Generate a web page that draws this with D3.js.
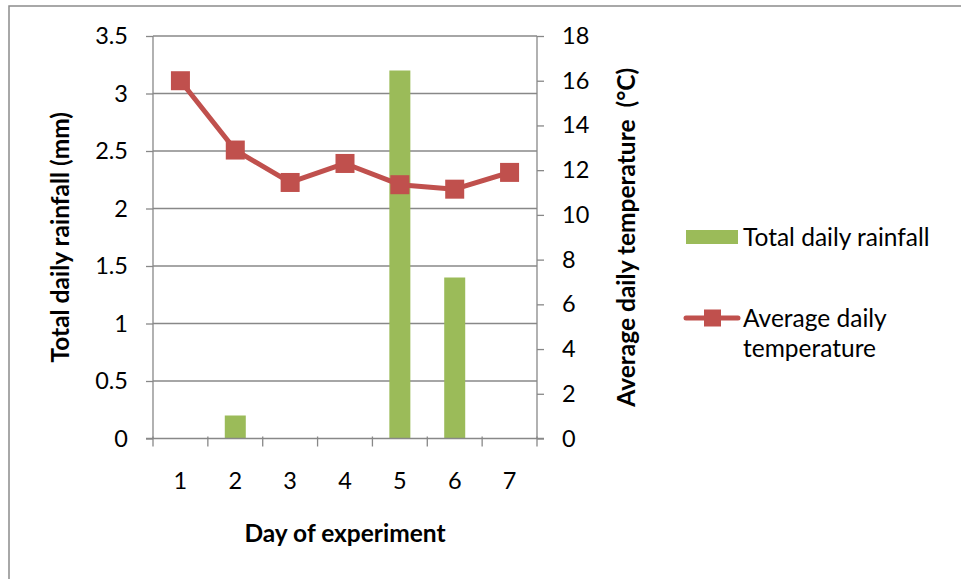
<!DOCTYPE html>
<html><head><meta charset="utf-8">
<script src="https://cdn.jsdelivr.net/npm/d3@7/dist/d3.min.js"></script>
<style>
html,body{margin:0;padding:0;background:#fff;}
svg{display:block;font-family:Lato,"Open Sans",sans-serif;}
</style></head>
<body><svg id="c" width="961" height="579"></svg>
<script>
const days = ["1","2","3","4","5","6","7"];
const rainfall = [0, 0.2, 0, 0, 3.2, 1.4, 0];
const temperature = [16.0, 12.9, 11.45, 12.3, 11.35, 11.15, 11.9];
const rainTicks = [0, 0.5, 1, 1.5, 2, 2.5, 3, 3.5];
const tempTicks = [0, 2, 4, 6, 8, 10, 12, 14, 16, 18];
const seriesNames = ["Total daily rainfall", "Average daily temperature"];

const svg = d3.select("#c");
const L = 153, R = 537, T = 36, B = 438.5;
const green = "#9BBB59", red = "#C0504D", grid = "#888888";
const fs = 23.5, fsLeg = 24.5, fsTitle = 24.5;

// outer frame
svg.append("rect").attr("x",9).attr("y",6).attr("width",1000).attr("height",1000)
  .attr("fill","none").attr("stroke","#8c8c8c").attr("stroke-width",1.5);

const x = d3.scaleBand().domain(days).range([L,R]);
const yL = d3.scaleLinear().domain([0,3.5]).range([B,T]);
const yR = d3.scaleLinear().domain([0,18]).range([B,T]);

// gridlines
svg.append("g").selectAll("line").data(rainTicks.filter(d=>d>0)).join("line")
  .attr("x1",L).attr("x2",R).attr("y1",d=>yL(d)).attr("y2",d=>yL(d))
  .attr("stroke",grid).attr("stroke-width",1.3);

// bars
const bw = 21;
svg.append("g").selectAll("rect").data(rainfall).join("rect")
  .attr("x",(d,i)=>x(days[i])+x.bandwidth()/2-bw/2)
  .attr("width",bw)
  .attr("y",d=>yL(d)).attr("height",d=>B-yL(d))
  .attr("fill",green);

// left axis
const axL = svg.append("g").attr("transform",`translate(${L},0)`)
  .call(d3.axisLeft(yL).tickValues(rainTicks).tickSize(7).tickPadding(18).tickFormat(d3.format("")));
// right axis
const axR = svg.append("g").attr("transform",`translate(${R},0)`)
  .call(d3.axisRight(yR).tickValues(tempTicks).tickSize(7).tickPadding(18));
// bottom axis
const xTickPos = d3.range(days.length+1);
const axB = svg.append("g").attr("transform",`translate(0,${B})`)
  .call(d3.axisBottom(x).tickSize(0).tickPadding(34));
axB.selectAll(".edge").data(xTickPos).join("line").attr("class","edge")
  .attr("x1",i=>L+i*x.step()).attr("x2",i=>L+i*x.step()).attr("y1",-2).attr("y2",8)
  .attr("stroke",grid).attr("stroke-width",1.3);

[axL,axR,axB].forEach(a=>{
  a.selectAll(".domain").attr("stroke",grid).attr("stroke-width",1.3);
  a.selectAll(".tick line").attr("stroke",grid).attr("stroke-width",1.3);
  a.selectAll("text").attr("font-size",fs).attr("font-family","Lato").attr("fill","#000");
});
axB.select(".domain").attr("d",`M${L-7},0H${R+7}`);
axL.select(".domain").attr("d",`M0,${T}V${B}`);
axR.select(".domain").attr("d",`M0,${T}V${B}`);

// line
const line = d3.line().x((d,i)=>x(days[i])+x.bandwidth()/2).y(d=>yR(d));
svg.append("path").datum(temperature).attr("d",line).attr("fill","none")
  .attr("stroke",red).attr("stroke-width",5).attr("stroke-linejoin","round");
const ms = 19;
svg.append("g").selectAll("rect").data(temperature).join("rect")
  .attr("x",(d,i)=>x(days[i])+x.bandwidth()/2-ms/2).attr("y",d=>yR(d)-ms/2)
  .attr("width",ms).attr("height",ms).attr("fill",red);

// axis titles
svg.append("text").attr("x",(L+R)/2).attr("y",542).attr("text-anchor","middle")
  .attr("font-weight","bold").attr("font-size",fsTitle).text("Day of experiment");
svg.append("text").attr("transform",`translate(69,${(T+B)/2}) rotate(-90)`).attr("text-anchor","middle")
  .attr("font-weight","bold").attr("font-size",fsTitle).text("Total daily rainfall (mm)");
svg.append("text").attr("transform",`translate(635,${(T+B)/2}) rotate(-90)`).attr("text-anchor","middle")
  .attr("font-weight","bold").attr("font-size",fsTitle).attr("xml:space","preserve").style("white-space","pre")
  .text("Average daily temperature  (°C)");

// legend
const lg = svg.append("g");
lg.append("rect").attr("x",686).attr("y",230).attr("width",52).attr("height",14).attr("fill",green);
lg.append("text").attr("x",743).attr("y",246).attr("font-size",fsLeg).text(seriesNames[0]);
lg.append("line").attr("x1",686).attr("x2",738).attr("y1",318).attr("y2",318)
  .attr("stroke",red).attr("stroke-width",5).attr("stroke-linecap","round");
lg.append("rect").attr("x",704).attr("y",309.5).attr("width",17).attr("height",17).attr("fill",red);
const lt = lg.append("text").attr("x",743).attr("y",327).attr("font-size",fsLeg);
lt.append("tspan").attr("x",743).text("Average daily");
lt.append("tspan").attr("x",743).attr("dy",30).text("temperature");
</script></body></html>
